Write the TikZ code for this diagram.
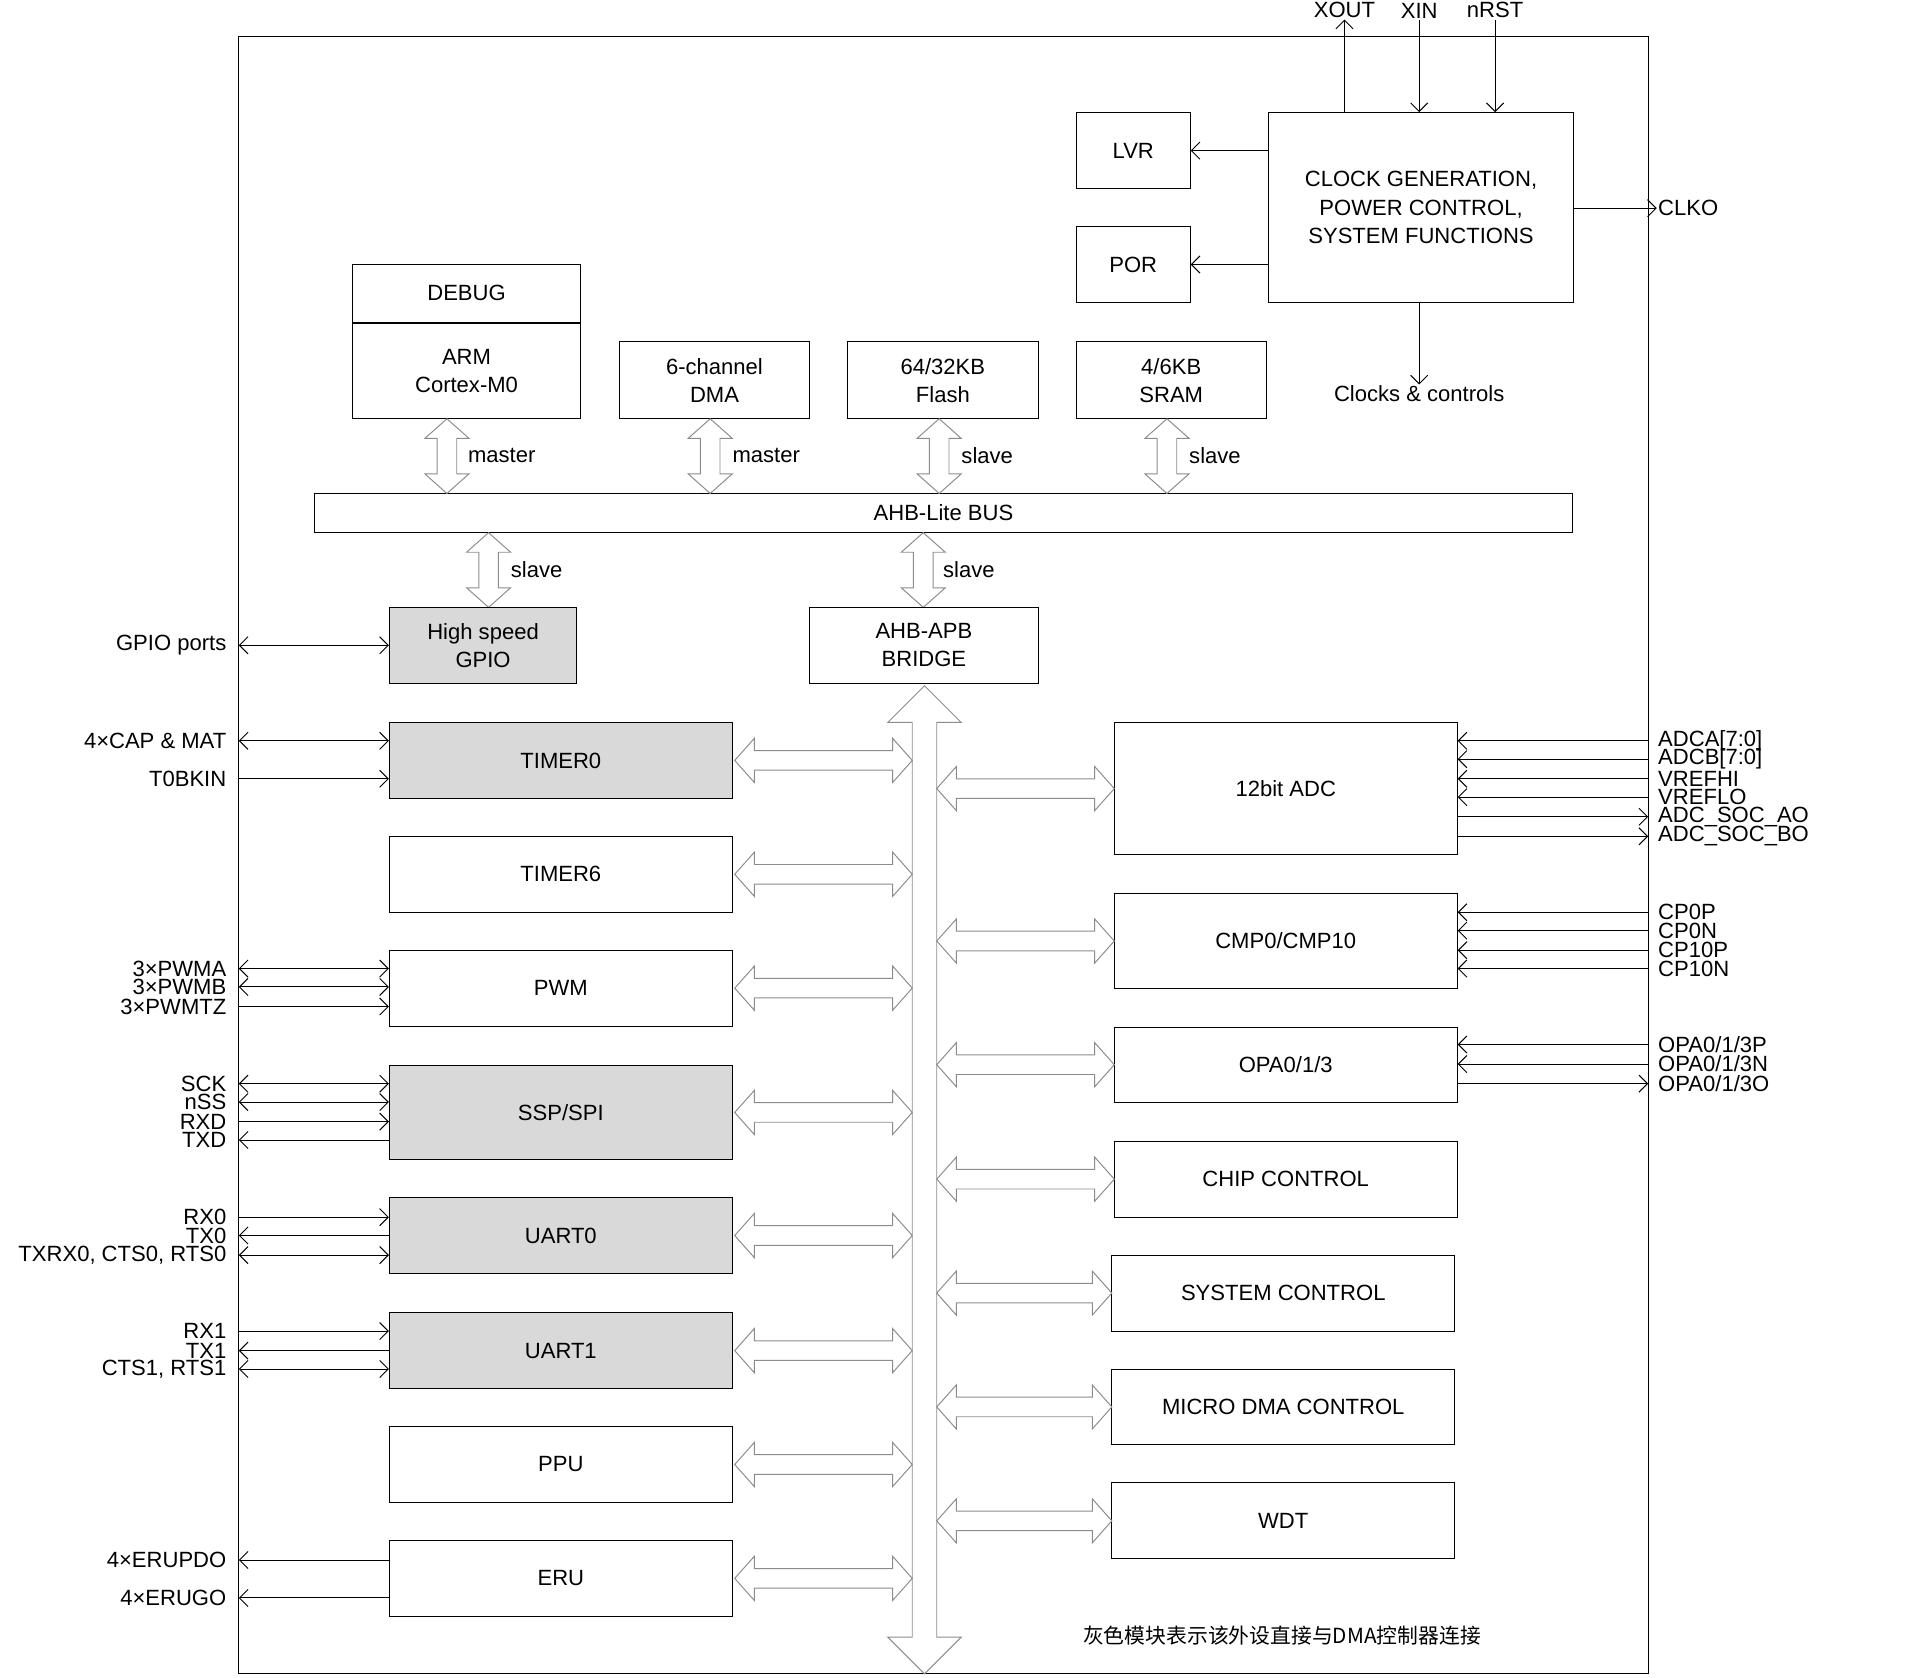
\documentclass[tikz,border=0pt]{standalone}
\usepackage{fontspec}
\setmainfont{Liberation Sans}
\newfontfamily\cjk{Noto Sans CJK SC}
\usetikzlibrary{arrows.meta}
\tikzset{
  blk/.style={draw, thick, minimum height=#1, inner sep=0pt, align=center},
  blk/.default=62pt,
  gblk/.style={blk=#1, fill=black!15},
  gblk/.default=62pt,
  sig/.style={thick, -{Straight Barb[length=7pt,width=14pt]}},
  sigb/.style={thick, {Straight Barb[length=7pt,width=14pt]}-{Straight Barb[length=7pt,width=14pt]}},
  lab/.style={inner sep=1pt, font=\fontsize{18}{17}\selectfont},
  hol/.style={draw=black!45, fill=white, thick},
}
% hollow double arrows
\newcommand\hhol[3]{\draw[hol] (#1,#3) -- ++(16,-18) -- ++(0,10) -- (#2-16,#3-8) -- ++(0,-10) -- (#2,#3) -- ++(-16,18) -- ++(0,-10) -- (#1+16,#3+8) -- ++(0,10) -- cycle;}
\newcommand\vhol[3]{\draw[hol] (#1,#2) -- ++(-18,16) -- ++(10,0) -- (#1-8,#3-16) -- ++(-10,0) -- (#1,#3) -- ++(18,-16) -- ++(-10,0) -- (#1+8,#2+16) -- ++(10,0) -- cycle;}
\begin{document}
\begin{tikzpicture}[x=1pt, y=-1pt, font=\fontsize{18}{23}\selectfont]
  \useasboundingbox (0,0) rectangle (1568,1370);
  \draw[thick] (195,30) rectangle (1346,1367);
  \coordinate (fw) at (195,0);
  \coordinate (fe) at (1346,0);

  % central APB bus
  \draw[hol] (755,560) -- (785,590) -- (765,590) -- (765,1337) -- (785,1337) -- (755,1367) -- (725,1337) -- (745,1337) -- (745,590) -- (725,590) -- cycle;

  % clock section
  \node[blk=155pt, minimum width=249pt] (clk) at (1160.5,169.5) {CLOCK GENERATION,\\POWER CONTROL,\\SYSTEM FUNCTIONS};
  \node[blk, minimum width=93pt] (lvr) at (925.5,123) {LVR};
  \node[blk, minimum width=93pt] (por) at (925.5,216) {POR};
  \draw[sig] (clk.west |- lvr) -- (lvr);
  \draw[sig] (clk.west |- por) -- (por);
  \node[lab, anchor=south] (xout) at (1098,16) {XOUT};
  \node[lab, anchor=south] (xin) at (1159,16) {XIN};
  \node[lab, anchor=south] (nrst) at (1221,16) {nRST};
  \draw[sig] (xout.south |- clk.north) -- (xout.south);
  \draw[sig] (xin.south) -- (xin.south |- clk.north);
  \draw[sig] (nrst.south) -- (nrst.south |- clk.north);
  \node[lab, anchor=west] (clko) at (1353,170) {CLKO};
  \draw[sig] (clk.east |- clko) -- (clko.west);
  \node[lab, anchor=north] (cc) at (1159,314) {Clocks \& controls};
  \draw[sig] (clk.south -| cc) -- (cc.north);

  % AHB masters and slaves
  \node[blk=47pt, minimum width=186pt] (dbg) at (381,239.5) {DEBUG};
  \node[blk=78pt, minimum width=186pt, anchor=north] (arm) at (dbg.south) {ARM\\Cortex-M0};
  \node[blk=63pt, minimum width=155pt] (dma) at (583.5,310.5) {6-channel\\DMA};
  \node[blk=63pt, minimum width=156pt] (fla) at (770,310.5) {64/32KB\\Flash};
  \node[blk=63pt, minimum width=155pt] (sram) at (956.5,310.5) {4/6KB\\SRAM};
  \node[blk=32pt, minimum width=1027pt] (ahb) at (770.5,419) {AHB-Lite BUS};
  \vhol{365}{342}{403}
  \vhol{580}{342}{403}
  \vhol{767}{342}{403}
  \vhol{953}{342}{403}
  \node[lab, anchor=west] at (381,372) {master};
  \node[lab, anchor=west] at (597,372) {master};
  \node[lab, anchor=west] at (784,372) {slave};
  \node[lab, anchor=west] at (970,372) {slave};
  \vhol{399}{435}{496}
  \vhol{754}{435}{496}
  \node[lab, anchor=west] at (416,465) {slave};
  \node[lab, anchor=west] at (769,465) {slave};
  \node[gblk, minimum width=153pt] (gpio) at (394.5,527) {High speed\\GPIO};
  \node[blk, minimum width=187pt] (brg) at (754.5,527) {AHB-APB\\BRIDGE};
  \node[lab, anchor=east] (gp) at (186,527) {GPIO ports};
  \draw[sigb] (fw |- gp) -- (gpio.west);

  % left peripherals
  \foreach \n/\t/\y/\h/\s in {tim0/TIMER0/621/62/gblk, tim6/TIMER6/714/62/blk, pwm/PWM/807/62/blk,
      ssp/SSP\slash SPI/908.5/77/gblk, ua0/UART0/1009/62/gblk, ua1/UART1/1103/62/gblk,
      ppu/PPU/1196/62/blk, eru/ERU/1289/62/blk}{
    \node[\s=\h pt, minimum width=280pt] (\n) at (458,\y) {\t};
    \hhol{600}{745}{\y}
  }

  % right peripherals
  \foreach \n/\t/\x/\y/\h in {adc/12bit ADC/1050/644/108, cmp/CMP0\slash CMP10/1050/768.5/77,
      opa/OPA0\slash 1\slash 3/1050/869.5/61, chip/CHIP CONTROL/1050/963/62,
      sysc/SYSTEM CONTROL/1048/1056/62, mdma/MICRO DMA CONTROL/1048/1149/62, wdt/WDT/1048/1242/62}{
    \node[blk=\h pt, minimum width=280pt] (\n) at (\x,\y) {\t};
    \hhol{765}{\x-140}{\y}
  }

  % left signals
  \foreach \t/\y in {4×CAP \& MAT/605, T0BKIN/636, 3×PWMA/791, 3×PWMB/806, 3×PWMTZ/822,
      SCK/885, nSS/900, RXD/916, TXD/931, RX0/994, TX0/1009, {TXRX0, CTS0, RTS0}/1025,
      RX1/1087, TX1/1103, {CTS1, RTS1}/1118, 4×ERUPDO/1274, 4×ERUGO/1305}
    \node[lab, anchor=east] at (186,\y) {\t};
  \foreach \y/\b in {605/tim0, 791/pwm, 806/pwm, 885/ssp, 900/ssp, 1025/ua0, 1118/ua1}
    \draw[sigb] (195,\y) -- (\b.west |- 0,\y);
  \foreach \y/\b in {636/tim0, 822/pwm, 916/ssp, 994/ua0, 1087/ua1}
    \draw[sig] (195,\y) -- (\b.west |- 0,\y);
  \foreach \y/\b in {931/ssp, 1009/ua0, 1103/ua1, 1274/eru, 1305/eru}
    \draw[sig] (\b.west |- 0,\y) -- (195,\y);

  % right signals
  \foreach \t/\y in {ADCA[7:0]/605, ADCB[7:0]/620, VREFHI/636, VREFLO/651, ADC\_SOC\_AO/667, ADC\_SOC\_BO/683,
      CP0P/745, CP0N/760, CP10P/776, CP10N/791, {OPA0/1/3P}/853, {OPA0/1/3N}/869, {OPA0/1/3O}/885}
    \node[lab, anchor=west] at (1353,\y) {\t};
  \foreach \y/\b in {605/adc, 620/adc, 636/adc, 651/adc, 745/cmp, 760/cmp, 776/cmp, 791/cmp, 853/opa, 869/opa}
    \draw[sig] (fe |- 0,\y) -- (\b.east |- 0,\y);
  \foreach \y/\b in {667/adc, 683/adc, 885/opa}
    \draw[sig] (\b.east |- 0,\y) -- (fe |- 0,\y);

  \node[font=\cjk\fontsize{17}{17}\selectfont] (note) at (1047,1336) {灰色模块表示该外设直接与DMA控制器连接};
\end{tikzpicture}
\end{document}
